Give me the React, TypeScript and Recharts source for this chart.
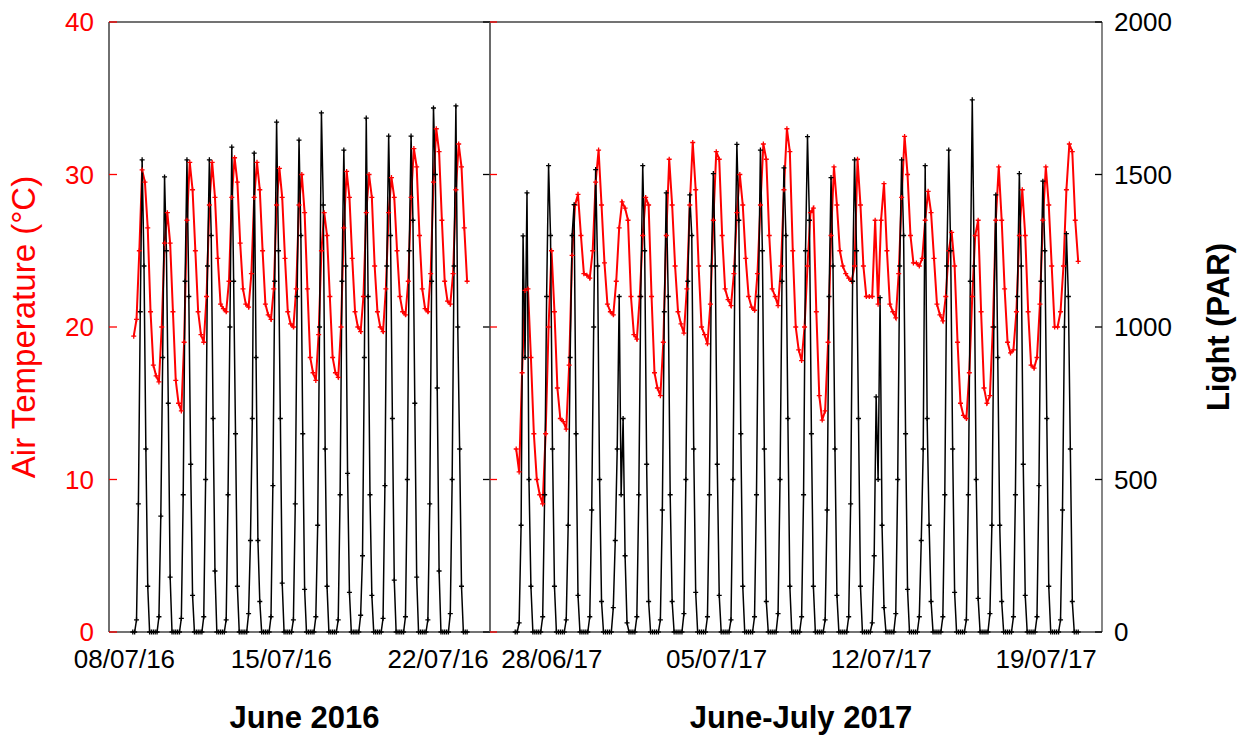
import React from 'react';
import { LineChart, Line, XAxis, YAxis, ReferenceLine, Label } from 'recharts';

const FONT = 'Arial, "Liberation Sans", Helvetica, sans-serif';

// ---------- axes ----------
const TEMP_TICKS = [0, 10, 20, 30, 40];
const PAR_TICKS = [0, 500, 1000, 1500, 2000];

// 2016 panel: x = day of July 2016
const LEFT_TICKS = [8, 15, 22];
const LEFT_TICK_LABELS = ['08/07/16', '15/07/16', '22/07/16'];
const LEFT_DOMAIN = [7.31, 24.31];
const LEFT_FIRST_DAY = 8.33;

// 2017 panel: x = day counted from 1 June 2017 (01/07 = 31)
const RIGHT_TICKS = [28, 35, 42, 49];
const RIGHT_TICK_LABELS = ['28/06/17', '05/07/17', '12/07/17', '19/07/17'];
const RIGHT_DOMAIN = [25.37, 51.37];
const RIGHT_FIRST_DAY = 26.4;

// sampling hours inside each day
const TEMP_HOURS = [2, 5, 8, 11, 14, 17, 20, 23];
const PAR_HOURS = [1, 3, 5, 7, 9, 11, 13, 15, 17, 19, 21, 23];

// ---------- 2016 data ----------
const TEMP_2016 = [
  [19.4, 20.5, 25.0, 30.3, 29.5, 26.5, 21.0, 17.5],
  [16.8, 16.4, 20.0, 25.5, 27.5, 25.5, 21.0, 16.5],
  [15.0, 14.5, 19.0, 27.0, 30.8, 29.0, 25.0, 21.0],
  [19.5, 19.0, 22.0, 28.0, 30.8, 28.5, 24.5, 21.5],
  [21.2, 21.0, 23.0, 28.5, 31.1, 29.5, 25.5, 22.5],
  [21.5, 21.3, 23.5, 28.5, 30.8, 29.0, 25.0, 21.5],
  [20.8, 20.5, 22.5, 28.0, 30.4, 28.5, 24.5, 21.0],
  [20.2, 20.0, 22.5, 28.0, 30.0, 27.5, 22.5, 18.0],
  [17.0, 16.5, 19.5, 25.0, 27.5, 26.0, 22.0, 18.0],
  [17.0, 16.7, 20.0, 26.5, 30.2, 28.5, 24.5, 21.0],
  [20.0, 19.7, 22.0, 27.5, 30.0, 28.5, 24.0, 21.0],
  [20.0, 19.7, 22.5, 27.5, 29.8, 28.5, 25.0, 22.0],
  [21.0, 20.8, 23.0, 28.5, 31.7, 30.5, 26.0, 22.5],
  [21.2, 21.0, 23.5, 29.5, 33.0, 31.5, 27.0, 23.0],
  [21.7, 21.5, 23.5, 29.0, 32.0, 30.5, 26.5, 23.0],
];

const PAR_2016 = [
  [0, 0, 40, 420, 1050, 1548, 1200, 600, 150, 0, 0, 0],
  [0, 0, 50, 380, 900, 1492, 1250, 750, 180, 0, 0, 0],
  [0, 0, 45, 450, 1150, 1548, 1100, 550, 120, 0, 0, 0],
  [0, 0, 50, 500, 1200, 1548, 1300, 700, 200, 0, 0, 0],
  [0, 0, 40, 450, 1000, 1590, 1150, 650, 150, 0, 0, 0],
  [0, 0, 60, 300, 700, 1570, 900, 300, 100, 0, 0, 0],
  [0, 0, 50, 480, 1150, 1672, 1250, 700, 160, 0, 0, 0],
  [0, 0, 40, 420, 1100, 1613, 1300, 650, 140, 0, 0, 0],
  [0, 0, 50, 350, 1000, 1702, 1400, 600, 150, 0, 0, 0],
  [0, 0, 40, 450, 1150, 1580, 1200, 520, 130, 0, 0, 0],
  [0, 0, 55, 250, 900, 1685, 1100, 450, 120, 0, 0, 0],
  [0, 0, 45, 480, 1200, 1626, 1300, 700, 170, 0, 0, 0],
  [0, 0, 50, 500, 1250, 1626, 1350, 750, 180, 0, 0, 0],
  [0, 0, 40, 420, 1150, 1718, 1500, 800, 200, 0, 0, 0],
  [0, 0, 60, 500, 1200, 1725, 1000, 600, 150, 0, 0, 0],
];

// ---------- 2017 data ----------
const TEMP_2017 = [
  [12.0, 10.5, 17.0, 22.4, 22.5, 18.0, 13.0, 10.0],
  [9.0, 8.4, 13.0, 20.0, 25.0, 21.0, 16.0, 14.0],
  [13.8, 13.3, 17.5, 24.7, 28.0, 28.7, 26.0, 23.5],
  [23.4, 23.2, 25.0, 29.5, 31.6, 28.0, 24.2, 21.5],
  [21.0, 20.8, 23.0, 26.5, 28.2, 27.8, 27.0, 22.0],
  [19.5, 19.2, 22.0, 26.0, 28.5, 28.0, 22.0, 17.0],
  [16.0, 15.5, 19.0, 26.0, 31.0, 28.0, 24.0, 21.0],
  [20.2, 19.6, 22.5, 28.0, 32.1, 29.0, 24.0, 20.0],
  [19.5, 18.9, 21.5, 27.0, 31.5, 31.0, 26.0, 22.5],
  [21.8, 21.4, 23.5, 27.5, 30.0, 28.0, 24.5, 22.0],
  [21.3, 21.1, 23.5, 28.0, 32.0, 31.0, 26.0, 22.5],
  [22.0, 21.4, 24.0, 29.0, 33.0, 31.5, 25.0, 20.0],
  [18.5, 17.8, 20.0, 24.0, 27.5, 27.8, 21.0, 15.5],
  [13.9, 14.5, 19.0, 26.0, 30.5, 28.0, 25.0, 24.0],
  [23.5, 23.2, 23.0, 24.0, 31.0, 28.0, 24.0, 22.0],
  [22.0, 22.0, 27.0, 21.5, 27.0, 29.4, 25.0, 21.5],
  [21.0, 20.6, 23.5, 28.5, 32.5, 30.0, 26.0, 24.2],
  [24.2, 24.0, 24.5, 27.0, 28.9, 27.5, 24.5, 21.5],
  [20.8, 20.4, 22.0, 25.0, 26.2, 24.0, 19.0, 15.0],
  [14.2, 14.0, 17.0, 22.0, 26.0, 27.0, 21.0, 16.0],
  [15.0, 15.5, 20.0, 27.0, 30.5, 27.0, 22.5, 19.0],
  [18.3, 18.5, 21.0, 26.0, 29.0, 26.0, 21.0, 17.5],
  [17.3, 18.0, 21.5, 27.0, 30.5, 28.0, 24.0, 20.0],
  [20.0, 21.0, 24.0, 29.0, 32.0, 31.5, 27.0, 24.3],
];

const PAR_2017 = [
  [0, 0, 30, 350, 1299, 900, 1440, 500, 150, 0, 0, 0],
  [0, 0, 50, 450, 1100, 1529, 1300, 600, 150, 0, 0, 0],
  [0, 0, 40, 350, 900, 1300, 1401, 650, 120, 0, 0, 0],
  [0, 0, 50, 400, 1000, 1516, 1200, 500, 100, 0, 0, 0],
  [0, 0, 80, 300, 600, 1100, 450, 700, 250, 30, 0, 0],
  [0, 0, 50, 450, 1100, 1529, 1250, 550, 100, 0, 0, 0],
  [0, 0, 40, 400, 1050, 1440, 1100, 450, 100, 0, 0, 0],
  [0, 0, 60, 500, 1150, 1433, 1300, 600, 130, 0, 0, 0],
  [0, 0, 50, 450, 1200, 1503, 1200, 550, 120, 0, 0, 0],
  [0, 0, 40, 500, 1200, 1599, 1350, 650, 150, 0, 0, 0],
  [0, 0, 50, 450, 1100, 1580, 1250, 600, 100, 0, 0, 0],
  [0, 0, 60, 500, 1150, 1522, 1300, 700, 150, 0, 0, 0],
  [0, 0, 50, 450, 1250, 1624, 1350, 650, 150, 0, 0, 0],
  [0, 0, 40, 400, 1100, 1490, 1200, 600, 120, 0, 0, 0],
  [0, 0, 50, 420, 1150, 1548, 1250, 700, 150, 0, 0, 0],
  [0, 0, 30, 250, 771, 500, 1096, 350, 80, 0, 0, 0],
  [0, 0, 60, 500, 1200, 1548, 1300, 650, 140, 0, 0, 0],
  [0, 0, 50, 300, 600, 1529, 700, 350, 100, 0, 0, 0],
  [0, 0, 50, 450, 1200, 1580, 1250, 600, 130, 0, 0, 0],
  [0, 0, 40, 450, 1150, 1745, 1200, 500, 110, 0, 0, 0],
  [0, 0, 60, 350, 1000, 1433, 900, 350, 100, 0, 0, 0],
  [0, 0, 50, 450, 1100, 1503, 1200, 550, 120, 0, 0, 0],
  [0, 0, 50, 480, 1150, 1478, 1250, 700, 150, 0, 0, 0],
  [0, 0, 40, 400, 1000, 1306, 1100, 600, 100, 0, 0, 0],
];

// ---------- helpers ----------
type Pt = { x: number; v: number };
function buildSeries(days: number[][], hours: number[], firstDay: number): Pt[] {
  const out: Pt[] = [];
  days.forEach((vals, d) => {
    vals.forEach((v, i) => {
      out.push({ x: firstDay + d + hours[i] / 24, v });
    });
  });
  return out;
}

const RED = '#ff0000';
const BLACK = '#000000';
const FRAME = '#444444';

const plusDot = (color: string) => (p: any) => {
  const { cx, cy, index } = p;
  if (cx == null || cy == null) return <g key={`e${index}`} />;
  return (
    <path
      key={`d${index}`}
      d={`M${cx - 2.5},${cy}H${cx + 2.5}M${cx},${cy - 2.5}V${cy + 2.5}`}
      stroke={color}
      strokeWidth={1.3}
      fill="none"
    />
  );
};

// outer left axis (labels outside, ticks pointing into the plot)
const leftOuterTick = (p: any) => (
  <g key={`lt${p.index}`}>
    <text x={p.x} y={p.y} dy="0.355em" textAnchor="end" fill={RED} fontSize={26} fontFamily={FONT}>
      {p.payload.value}
    </text>
    <line x1={p.x + 15} x2={p.x + 23} y1={p.y} y2={p.y} stroke={RED} strokeWidth={1.3} />
  </g>
);

// outer right axis (labels outside, ticks pointing into the plot)
const rightOuterTick = (p: any) => (
  <g key={`rt${p.index}`}>
    <text x={p.x} y={p.y} dy="0.355em" textAnchor="start" fill={BLACK} fontSize={26} fontFamily={FONT}>
      {p.payload.value}
    </text>
    <line x1={p.x - 12} x2={p.x - 19} y1={p.y} y2={p.y} stroke={BLACK} strokeWidth={1.3} />
  </g>
);

// inner separator ticks (no labels)
const innerTick = (color: string, dir: number) => (p: any) => (
  <g key={`it${p.index}`}>
    <line x1={p.x} x2={p.x + dir * 7} y1={p.y} y2={p.y} stroke={color} strokeWidth={1.3} />
  </g>
);

const tempLeft = buildSeries(TEMP_2016, TEMP_HOURS, LEFT_FIRST_DAY);
const parLeft = buildSeries(PAR_2016, PAR_HOURS, LEFT_FIRST_DAY);
const tempRight = buildSeries(TEMP_2017, TEMP_HOURS, RIGHT_FIRST_DAY);
const parRight = buildSeries(PAR_2017, PAR_HOURS, RIGHT_FIRST_DAY);

const fmt = (ticks: number[], labels: string[]) => (v: number) => {
  const i = ticks.indexOf(v);
  return i >= 0 ? labels[i] : '';
};

const xTickStyle = { fill: BLACK, fontSize: 26, fontFamily: FONT };
const panelTitleStyle = { fontSize: 31, fontWeight: 'bold', fill: BLACK, fontFamily: FONT } as any;

function LeftPanel() {
  return (
    <LineChart width={500} height={742} margin={{ top: 22, right: 9, bottom: 0, left: 0 }}>
      <XAxis
        xAxisId="x"
        type="number"
        dataKey="x"
        domain={LEFT_DOMAIN}
        allowDataOverflow
        ticks={LEFT_TICKS}
        interval={0}
        tickFormatter={fmt(LEFT_TICKS, LEFT_TICK_LABELS)}
        height={110}
        tickLine={false}
        tickSize={0}
        tickMargin={18}
        axisLine={{ stroke: FRAME, strokeWidth: 1.3 }}
        tick={xTickStyle}
      >
        <Label value="June 2016" position="insideBottom" offset={14} dx={5} style={panelTitleStyle} />
      </XAxis>
      <YAxis
        yAxisId="temp"
        orientation="left"
        width={109}
        type="number"
        domain={[0, 40]}
        ticks={TEMP_TICKS}
        interval={0}
        tickLine={false}
        tickSize={0}
        tickMargin={15}
        axisLine={{ stroke: '#222222', strokeWidth: 1.3 }}
        tick={leftOuterTick}
      >
        <Label
          value="Air Temperature (°C)"
          angle={-90}
          position="insideLeft"
          offset={23}
          style={{ textAnchor: 'middle', fontSize: 33, fill: RED, fontFamily: FONT }}
        />
      </YAxis>
      <YAxis
        yAxisId="par"
        orientation="right"
        width={1}
        type="number"
        domain={[0, 2000]}
        ticks={PAR_TICKS}
        interval={0}
        tickLine={false}
        tickSize={0}
        tickMargin={0}
        axisLine={{ stroke: '#555555', strokeWidth: 1.3 }}
        tick={innerTick(BLACK, -1)}
      />
      <ReferenceLine xAxisId="x" yAxisId="temp" y={40} stroke={FRAME} strokeWidth={1.3} />
      <Line
        xAxisId="x"
        yAxisId="temp"
        data={tempLeft}
        dataKey="v"
        type="linear"
        stroke={RED}
        strokeWidth={2}
        dot={plusDot(RED)}
        activeDot={false}
        isAnimationActive={false}
      />
      <Line
        xAxisId="x"
        yAxisId="par"
        data={parLeft}
        dataKey="v"
        type="linear"
        stroke={BLACK}
        strokeWidth={1.5}
        dot={plusDot(BLACK)}
        activeDot={false}
        isAnimationActive={false}
      />
    </LineChart>
  );
}

function RightPanel() {
  return (
    <LineChart width={773} height={742} margin={{ top: 22, right: 0, bottom: 0, left: 9 }}>
      <XAxis
        xAxisId="x"
        type="number"
        dataKey="x"
        domain={RIGHT_DOMAIN}
        allowDataOverflow
        ticks={RIGHT_TICKS}
        interval={0}
        tickFormatter={fmt(RIGHT_TICKS, RIGHT_TICK_LABELS)}
        height={110}
        tickLine={false}
        tickSize={0}
        tickMargin={18}
        axisLine={{ stroke: FRAME, strokeWidth: 1.3 }}
        tick={xTickStyle}
      >
        <Label value="June-July 2017" position="insideBottom" offset={14} dx={5} style={panelTitleStyle} />
      </XAxis>
      <YAxis
        yAxisId="temp"
        orientation="left"
        width={1}
        type="number"
        domain={[0, 40]}
        ticks={TEMP_TICKS}
        interval={0}
        tickLine={false}
        tickSize={0}
        tickMargin={0}
        axisLine={{ stroke: '#555555', strokeWidth: 1.3 }}
        tick={innerTick(RED, 1)}
      />
      <YAxis
        yAxisId="par"
        orientation="right"
        width={151}
        type="number"
        domain={[0, 2000]}
        ticks={PAR_TICKS}
        interval={0}
        tickLine={false}
        tickSize={0}
        tickMargin={12}
        axisLine={{ stroke: FRAME, strokeWidth: 1.3 }}
        tick={rightOuterTick}
      >
        <Label
          value="Light (PAR)"
          angle={-90}
          position="insideLeft"
          offset={116}
          style={{ textAnchor: 'middle', fontSize: 31, fontWeight: 'bold', fill: BLACK, fontFamily: FONT }}
        />
      </YAxis>
      <ReferenceLine xAxisId="x" yAxisId="temp" y={40} stroke={FRAME} strokeWidth={1.3} />
      <Line
        xAxisId="x"
        yAxisId="temp"
        data={tempRight}
        dataKey="v"
        type="linear"
        stroke={RED}
        strokeWidth={2}
        dot={plusDot(RED)}
        activeDot={false}
        isAnimationActive={false}
      />
      <Line
        xAxisId="x"
        yAxisId="par"
        data={parRight}
        dataKey="v"
        type="linear"
        stroke={BLACK}
        strokeWidth={1.5}
        dot={plusDot(BLACK)}
        activeDot={false}
        isAnimationActive={false}
      />
    </LineChart>
  );
}

export default function App() {
  return (
    <div style={{ position: 'absolute', left: 0, top: 0, width: 1253, height: 742, background: '#fff' }}>
      <div style={{ position: 'absolute', left: 0, top: 0 }}>
        <LeftPanel />
      </div>
      <div style={{ position: 'absolute', left: 480, top: 0 }}>
        <RightPanel />
      </div>
    </div>
  );
}
